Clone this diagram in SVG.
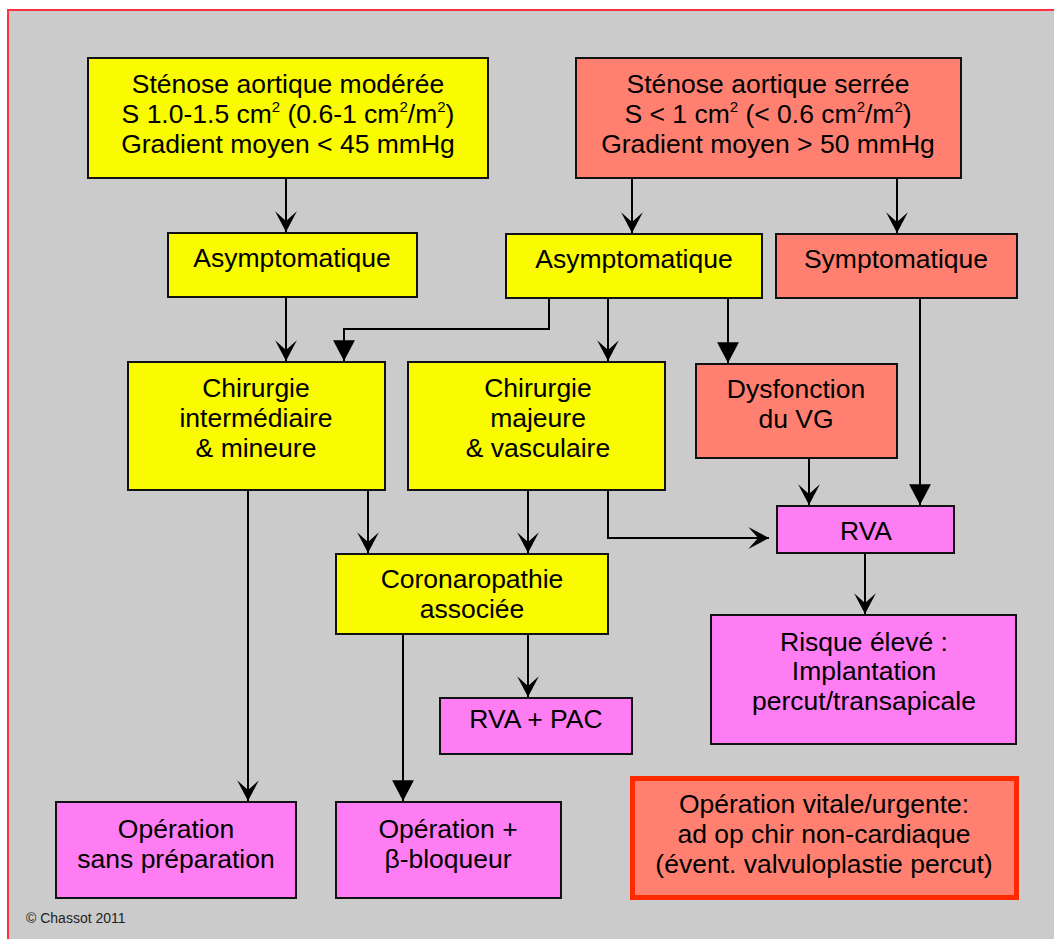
<svg xmlns="http://www.w3.org/2000/svg" width="1054" height="939" viewBox="0 0 1054 939">
<style>
.box{stroke:#111;stroke-width:2}
.y{fill:#FAFA00}
.s{fill:#FF8070}
.p{fill:#FF7DF3}
.t{font-family:"Liberation Sans",Arial,sans-serif;font-size:26.5px;fill:#000;text-anchor:middle}
.sup{font-size:15px}
.c{fill:none;stroke:#000;stroke-width:2}
</style>
<defs>
<marker id="st" markerUnits="userSpaceOnUse" markerWidth="24" markerHeight="24" viewBox="-21 -11 22 22" refX="0" refY="0" orient="auto">
<path d="M0,0 L-19,-10 L-10,0 L-19,10 Z" fill="#000"/>
</marker>
<marker id="tri" markerUnits="userSpaceOnUse" markerWidth="24" markerHeight="24" viewBox="-21 -11 22 22" refX="0" refY="0" orient="auto">
<path d="M0,0 L-19,-10 L-19,10 Z" fill="#000"/>
</marker>
</defs>
<rect x="0" y="0" width="1054" height="939" fill="#fff"/>
<rect x="8" y="10" width="1070" height="950" fill="#CBCBCB" stroke="#FF3040" stroke-width="2"/>

<g id="connectors">
<path class="c" d="M286,178 V232" marker-end="url(#st)"/>
<path class="c" d="M632,178 V233" marker-end="url(#st)"/>
<path class="c" d="M897,178 V233" marker-end="url(#st)"/>
<path class="c" d="M286,297 V361" marker-end="url(#st)"/>
<path class="c" d="M549,298 V329 H344 V361" marker-end="url(#tri)"/>
<path class="c" d="M608,298 V361" marker-end="url(#st)"/>
<path class="c" d="M728,298 V363" marker-end="url(#tri)"/>
<path class="c" d="M920,298 V505" marker-end="url(#tri)"/>
<path class="c" d="M809,458 V505" marker-end="url(#st)"/>
<path class="c" d="M248,490 V801" marker-end="url(#st)"/>
<path class="c" d="M368,490 V553" marker-end="url(#st)"/>
<path class="c" d="M528,490 V553" marker-end="url(#st)"/>
<path class="c" d="M608,490 V538 H769" marker-end="url(#st)"/>
<path class="c" d="M865,553 V614" marker-end="url(#st)"/>
<path class="c" d="M403,634 V801" marker-end="url(#tri)"/>
<path class="c" d="M528,634 V697" marker-end="url(#st)"/>
</g>

<g id="n-moderee">
<rect class="box y" x="88" y="58" width="400" height="120"/>
<text class="t" x="288" y="93">Sténose aortique modérée</text>
<text class="t" x="288" y="123">S 1.0-1.5 cm<tspan class="sup" dy="-11">2</tspan><tspan dy="11"> (0.6-1 cm</tspan><tspan class="sup" dy="-11">2</tspan><tspan dy="11">/m</tspan><tspan class="sup" dy="-11">2</tspan><tspan dy="11">)</tspan></text>
<text class="t" x="288" y="153">Gradient moyen &lt; 45 mmHg</text>
</g>

<g id="n-serree">
<rect class="box s" x="576" y="58" width="385" height="120"/>
<text class="t" x="768" y="93">Sténose aortique serrée</text>
<text class="t" x="768" y="123">S &lt; 1 cm<tspan class="sup" dy="-11">2</tspan><tspan dy="11"> (&lt; 0.6 cm</tspan><tspan class="sup" dy="-11">2</tspan><tspan dy="11">/m</tspan><tspan class="sup" dy="-11">2</tspan><tspan dy="11">)</tspan></text>
<text class="t" x="768" y="153">Gradient moyen &gt; 50 mmHg</text>
</g>

<g id="n-asym1">
<rect class="box y" x="168" y="233" width="249" height="64"/>
<text class="t" x="292" y="267">Asymptomatique</text>
</g>

<g id="n-asym2">
<rect class="box y" x="506" y="234" width="256" height="64"/>
<text class="t" x="634" y="268">Asymptomatique</text>
</g>

<g id="n-sympt">
<rect class="box s" x="776" y="234" width="241" height="64"/>
<text class="t" x="896" y="268">Symptomatique</text>
</g>

<g id="n-chir-int">
<rect class="box y" x="128" y="362" width="257" height="128"/>
<text class="t" x="256" y="397">Chirurgie</text>
<text class="t" x="256" y="427">intermédiaire</text>
<text class="t" x="256" y="457">&amp; mineure</text>
</g>

<g id="n-chir-maj">
<rect class="box y" x="408" y="362" width="257" height="128"/>
<text class="t" x="538" y="397">Chirurgie</text>
<text class="t" x="538" y="427">majeure</text>
<text class="t" x="538" y="457">&amp; vasculaire</text>
</g>

<g id="n-dysf">
<rect class="box s" x="696" y="364" width="201" height="94"/>
<text class="t" x="796" y="398">Dysfonction</text>
<text class="t" x="796" y="428">du VG</text>
</g>

<g id="n-rva">
<rect class="box p" x="777" y="506" width="177" height="47"/>
<text class="t" x="866" y="540">RVA</text>
</g>

<g id="n-corona">
<rect class="box y" x="336" y="554" width="272" height="80"/>
<text class="t" x="472" y="588">Coronaropathie</text>
<text class="t" x="472" y="618">associée</text>
</g>

<g id="n-risque">
<rect class="box p" x="711" y="615" width="305" height="129"/>
<text class="t" x="864" y="651">Risque élevé :</text>
<text class="t" x="864" y="680">Implantation</text>
<text class="t" x="864" y="710">percut/transapicale</text>
</g>

<g id="n-rvapac">
<rect class="box p" x="440" y="698" width="192" height="56"/>
<text class="t" x="536" y="728">RVA + PAC</text>
</g>

<g id="n-op-sans">
<rect class="box p" x="56" y="802" width="240" height="96"/>
<text class="t" x="176" y="838">Opération</text>
<text class="t" x="176" y="868">sans préparation</text>
</g>

<g id="n-op-beta">
<rect class="box p" x="336" y="802" width="225" height="96"/>
<text class="t" x="448" y="838">Opération +</text>
<text class="t" x="448" y="868">β-bloqueur</text>
</g>

<g id="n-urgente">
<rect x="632.5" y="778.5" width="384" height="119" fill="#FF8070" stroke="#FF2A00" stroke-width="5"/>
<text class="t" x="824" y="813">Opération vitale/urgente:</text>
<text class="t" x="824" y="843">ad op chir non-cardiaque</text>
<text class="t" x="824" y="873">(évent. valvuloplastie percut)</text>
</g>

<text x="26" y="923" font-family="'Liberation Sans',Arial,sans-serif" font-size="14" fill="#222">© Chassot 2011</text>
</svg>
